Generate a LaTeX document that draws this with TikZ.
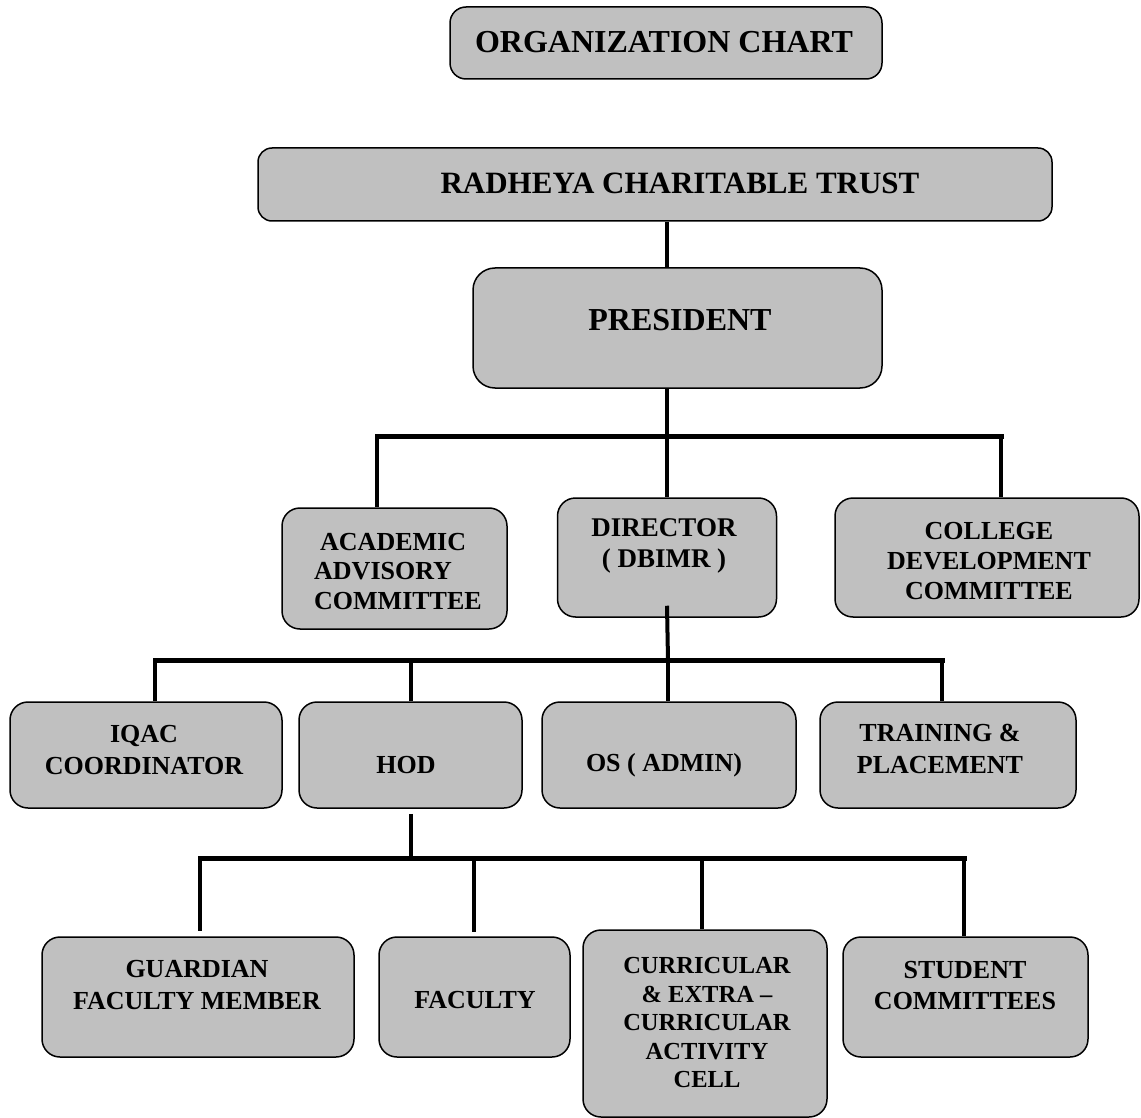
\documentclass[tikz,border=0pt]{standalone}
\usepackage{fontspec}
\setmainfont{Liberation Serif}
\definecolor{boxgray}{HTML}{C0C0C0}
\begin{document}
\begin{tikzpicture}[x=1pt,y=-1pt,
  box/.style={draw=black, line width=1.5pt, fill=boxgray, rounded corners=18pt, inner sep=0pt},
  lbl/.style={inner sep=0pt, align=center, font=\bfseries\fontsize{26}{32}\selectfont},
  biglbl/.style={inner sep=0pt, align=center, font=\bfseries\fontsize{32}{36}\selectfont},
  conn/.style={line width=4pt},
  barline/.style={line width=5pt, line cap=rect}]
\useasboundingbox (0,0) rectangle (1141,1118);

% ---------- boxes ----------
\node[box, rounded corners=16pt, minimum width=432pt, minimum height=72pt] (title) at (666,43) {};
\node[box, rounded corners=14pt, minimum width=794pt, minimum height=73pt] (trust) at (655,184.5) {};
\node[box, rounded corners=22pt, minimum width=409pt, minimum height=120pt] (pres) at (677.5,328) {};
\node[box, minimum width=225pt, minimum height=121pt] (acad) at (394.5,568.5) {};
\node[box, minimum width=219pt, minimum height=119pt] (dir) at (667,557.5) {};
\node[box, minimum width=304pt, minimum height=119pt] (coll) at (987,557.5) {};
\node[box, minimum width=272pt, minimum height=106pt] (iqac) at (146,755) {};
\node[box, minimum width=223pt, minimum height=106pt] (hod) at (410.5,755) {};
\node[box, minimum width=254pt, minimum height=106pt] (os) at (669,755) {};
\node[box, minimum width=256pt, minimum height=106pt] (tp) at (948,755) {};
\node[box, minimum width=312pt, minimum height=120pt] (guard) at (198,997) {};
\node[box, minimum width=191pt, minimum height=120pt] (fac) at (474.5,997) {};
\node[box, minimum width=244pt, minimum height=187pt] (curr) at (705,1023.5) {};
\node[box, minimum width=245pt, minimum height=120pt] (stud) at (965.5,997) {};

% ---------- texts ----------
\node[biglbl] (titleT) at (664,42.5) {ORGANIZATION CHART};
\node[biglbl, font=\bfseries\fontsize{31}{36}\selectfont] (trustT) at (680,183) {RADHEYA CHARITABLE TRUST};
\node[biglbl] (presT) at (680,320.5) {PRESIDENT};
\node[lbl, align=left, anchor=west, font=\bfseries\fontsize{26}{29.5}\selectfont] (acadT) at (314,571.5) {\hspace*{6pt}ACADEMIC\\ADVISORY\\COMMITTEE};
\node[lbl, font=\bfseries\fontsize{27}{31}\selectfont] (dirT) at (664,545.5) {DIRECTOR\\( DBIMR )};
\node[lbl, font=\bfseries\fontsize{26}{30}\selectfont] (collT) at (989,561.5) {COLLEGE\\DEVELOPMENT\\COMMITTEE};
\node[lbl] (iqacT) at (144,750) {IQAC\\COORDINATOR};
\node[lbl] (hodT) at (406,765) {HOD};
\node[lbl] (osT) at (664,765) {OS ( ADMIN)};
\node[lbl] (tpT) at (940,749) {TRAINING \&\\PLACEMENT};
\node[lbl] (guardT) at (197,985) {GUARDIAN\\FACULTY MEMBER};
\node[lbl] (facT) at (475,1000) {FACULTY};
\node[lbl, font=\bfseries\fontsize{24.5}{28.5}\selectfont] (currT) at (707,1023) {CURRICULAR\\\& EXTRA –\\CURRICULAR\\ACTIVITY\\CELL};
\node[lbl, font=\bfseries\fontsize{26}{31}\selectfont] (studT) at (965,986) {STUDENT\\COMMITTEES};

% ---------- junction coordinates ----------
\coordinate (spine) at (667,0);
\coordinate (b1L) at (377,436);
\coordinate (b1M) at (667,436);
\coordinate (b1R) at (1001,436);
\coordinate (b2A) at (155,660);
\coordinate (b2B) at (411,660);
\coordinate (b2C) at (668,660);
\coordinate (b2D) at (942,660);
\coordinate (b3A) at (200,858);
\coordinate (b3H) at (411,858);
\coordinate (b3B) at (474,858);
\coordinate (b3C) at (702,858);
\coordinate (b3D) at (964,858);

% ---------- connectors ----------
\draw[conn] (trust.south -| spine) -- (pres.north -| spine);
\draw[conn] (pres.south -| spine) -- (b1M);
\draw[barline] (b1L) -- (b1R);
\draw[conn] (b1L) -- (b1L |- acad.north);
\draw[conn] (b1M) -- (dir.north);
\draw[conn] (b1R) -- (b1R |- coll.north);

\draw[conn] ([yshift=12pt]dir.south) -- (b2C |- b2A);
\draw[barline] (b2A) -- (b2D);
\draw[conn] (b2A) -- (b2A |- iqac.north);
\draw[conn] (b2B) -- (b2B |- hod.north);
\draw[conn] (b2C) -- (b2C |- os.north);
\draw[conn] (b2D) -- (b2D |- tp.north);

\draw[conn] ([yshift=-5pt]hod.south -| b3H) -- (b3H);
\draw[barline] (b3A) -- (b3D);
\draw[conn] (b3A) -- ([yshift=5pt]b3A |- guard.north);
\draw[conn] (b3B) -- ([yshift=4pt]b3B |- fac.north);
\draw[conn] (b3C) -- (b3C |- curr.north);
\draw[conn] (b3D) -- (b3D |- stud.north);
\end{tikzpicture}
\end{document}
